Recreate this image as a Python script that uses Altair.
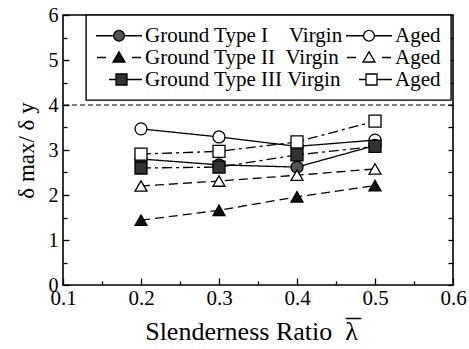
import altair as alt
import pandas as pd

# Slenderness ratio (x) and ductility ratio delta_max / delta_y for each ground type
slenderness = [0.2, 0.3, 0.4, 0.5]
type1_virgin = [2.80, 2.67, 2.62, 3.10]
type1_aged = [3.47, 3.29, 3.08, 3.22]
type2_virgin = [1.44, 1.66, 1.96, 2.21]
type2_aged = [2.20, 2.31, 2.44, 2.58]
type3_virgin = [2.60, 2.62, 2.89, 3.08]
type3_aged = [2.91, 2.97, 3.18, 3.64]

limit_ratio = [4.0]

x_major = [0.1, 0.2, 0.3, 0.4, 0.5, 0.6]
x_minor = [0.15, 0.25, 0.35, 0.45, 0.55]
y_major = [0, 1, 2, 3, 4, 5, 6]
y_minor = [0.5, 1.5, 2.5, 3.5, 4.5, 5.5]
y_all = [0, 0.5, 1, 1.5, 2, 2.5, 3, 3.5, 4, 4.5, 5, 5.5, 6]

FONT = "Liberation Serif"
NB = "\u00a0"
W, H = 390, 270

# draw order: aged first, virgin on top
series_keys = ["I-A", "I-V", "II-A", "II-V", "III-A", "III-V"]
series_values = {
    "I-A": type1_aged, "I-V": type1_virgin,
    "II-A": type2_aged, "II-V": type2_virgin,
    "III-A": type3_aged, "III-V": type3_virgin,
}
rows = []
for key in series_keys:
    for xv, yv in zip(slenderness, series_values[key]):
        rows.append({"ratio": xv, "ductility": yv, "series": key})
df = pd.DataFrame(rows)

line_dashes = [[1, 0], [1, 0], [9, 5], [9, 5], [10, 4, 3, 4], [10, 4, 3, 4]]
point_shapes = ["circle", "circle", "triangle-up", "triangle-up", "square", "square"]
point_fills = ["white", "#555555", "white", "#111111", "white", "#333333"]

# legend: two columns (Virgin | Aged), symbols are line + marker paths
legend_order = ["I-V", "I-A", "II-V", "II-A", "III-V", "III-A"]
circ = "M-1.75,0H1.183M2.983,0H5.917M1.183,0A0.9,0.9,0,1,1,2.983,0A0.9,0.9,0,1,1,1.183,0Z"
tri = "M-1.583,0H-0.083M4.25,0H5.75M1.083,0.75L3.083,0.75L2.083,-0.95Z"
sq = "M0.417,0H1.583M3.417,0H5.917M1.583,-0.917H3.417V0.917H1.583Z"
legend_paths = [circ, circ, tri, tri, sq, sq]
legend_fills = ["#555555", "white", "#111111", "white", "#333333", "white"]
legend_strokes = ["black"] * 6
label_expr = (
    "datum.label == 'I-V' ? 'Ground Type I" + NB * 4 + "Virgin' : "
    "datum.label == 'II-V' ? 'Ground Type II" + NB * 2 + "Virgin' : "
    "datum.label == 'III-V' ? 'Ground Type III" + NB + "Virgin' : 'Aged'"
)

x_title = "Slenderness Ratio" + NB * 2 + "\u03bb"
lambda_bar = "_"


def make_legend():
    return alt.Legend(
        orient="none", legendX=23, legendY=0, columns=2, direction="horizontal",
        title=None, labelExpr=label_expr, symbolSize=144,
        symbolStrokeColor="black", symbolStrokeWidth=1.3, symbolOpacity=1,
        labelFont=FONT, labelFontSize=21, labelColor="black", labelOffset=28,
        labelLimit=0, columnPadding=0, rowPadding=0, padding=10,
        strokeColor="black", fillColor="white",
    )


x_scale = alt.Scale(domain=[0.1, 0.6], nice=False, zero=False)
y_scale = alt.Scale(domain=[0, 6], nice=False, zero=False)


def tick_axis(orient, offset, values, size, **kw):
    opts = dict(orient=orient, offset=offset, values=values, tickSize=size,
                tickWidth=1.3, tickColor="black", labels=False,
                domain=False, grid=False)
    opts.update(kw)
    if "title" not in opts:
        opts["title"] = None
    return alt.Axis(**opts)


base = alt.Chart(df)

limit_rule = alt.Chart(pd.DataFrame({"limit": limit_ratio})).mark_rule(
    color="black", strokeWidth=1.2, strokeDash=[5, 3]
).encode(y=alt.Y("limit:Q", scale=y_scale, axis=None))

lines = base.mark_line(color="black", strokeWidth=1.3).encode(
    x=alt.X("ratio:Q", scale=x_scale, axis=alt.Axis(
        orient="bottom", values=x_major, format=".1f", ticks=False, domain=False,
        grid=False, labelFontSize=21, labelPadding=2,
        title=x_title, titleFontSize=26, titleBaseline="alphabetic",
        titleX=188, titleY=54)),
    y=alt.Y("ductility:Q", scale=y_scale, axis=alt.Axis(
        orient="left", values=y_major, format="d", ticks=False, domain=False,
        grid=False, labelFontSize=20, labelPadding=5,
        title="\u03b4 max/ \u03b4 y", titleFontSize=23, titlePadding=10)),
    strokeDash=alt.StrokeDash("series:N", scale=alt.Scale(domain=series_keys, range=line_dashes), legend=None),
    detail="series:N",
)

points = base.mark_point(filled=True, size=144, stroke="black", strokeWidth=1.3, opacity=1).encode(
    x=alt.X("ratio:Q", scale=x_scale, axis=tick_axis("top", -H, x_major, 7)),
    y=alt.Y("ductility:Q", scale=y_scale, axis=tick_axis("right", -W, y_major, 6)),
    shape=alt.Shape("series:N", scale=alt.Scale(domain=series_keys, range=point_shapes), legend=None),
    fill=alt.Fill("series:N", scale=alt.Scale(domain=series_keys, range=point_fills), legend=None),
)

# minor ticks; this axis also carries the bar drawn over lambda in the x title
minor_ticks = base.transform_filter("false").mark_point().encode(
    x=alt.X("ratio:Q", scale=x_scale, axis=tick_axis(
        "top", -H, x_minor, 4, title=lambda_bar, titleFontSize=30,
        titleBaseline="alphabetic", titleX=290, titleY=30)),
    y=alt.Y("ductility:Q", scale=y_scale, axis=tick_axis("right", -W, y_minor, 4)),
)

legend_layer = base.transform_filter("false").mark_point(
    filled=False, strokeWidth=1.3, opacity=1
).encode(
    y=alt.Y("ductility:Q", scale=y_scale, axis=tick_axis("left", -W, y_all, 5)),
    shape=alt.Shape("series:N", scale=alt.Scale(domain=legend_order, range=legend_paths), legend=make_legend()),
    fill=alt.Fill("series:N", scale=alt.Scale(domain=legend_order, range=legend_fills), legend=make_legend()),
    stroke=alt.Stroke("series:N", scale=alt.Scale(domain=legend_order, range=legend_strokes), legend=make_legend()),
)

chart = alt.layer(limit_rule, lines, points, minor_ticks, legend_layer).resolve_scale(
    shape="independent", fill="independent", stroke="independent", strokeDash="independent"
).resolve_axis(
    x="independent", y="independent"
).properties(
    width=W, height=H,
    autosize=alt.AutoSizeParams(type="none"),
    padding={"left": 63, "top": 15, "right": 16, "bottom": 64},
    background="white",
).configure_view(
    stroke="black", strokeWidth=1.6
).configure_axis(
    labelFont=FONT, titleFont=FONT, labelColor="black", titleColor="black",
    titleFontWeight="normal", labelFlush=False, labelOverlap=False,
).configure_legend(strokeWidth=1.4)

chart.save("out.html", embed_options={"renderer": "svg", "actions": False})
